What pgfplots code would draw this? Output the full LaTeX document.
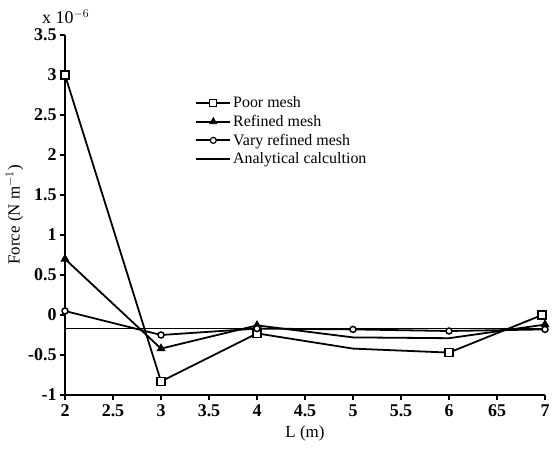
\documentclass[border=0pt]{standalone}
\usepackage{fontspec}
\setmainfont{Liberation Serif}
\usepackage{pgfplots}
\pgfplotsset{compat=1.18}
\usetikzlibrary{calc}
\begin{document}
\begin{tikzpicture}
\begin{axis}[
    name=ax,
    scale only axis,
    width=480bp, height=360bp,
    xmin=2, xmax=7,
    ymin=-1, ymax=3.5,
    axis lines=left,
    axis line style={-, line width=1.8pt},
    tick align=outside,
    tick style={line width=1.8pt, black},
    major tick length=5bp,
    xtick={2,2.5,3,3.5,4,4.5,5,5.5,6,6.5,7},
    xticklabels={2,2.5,3,3.5,4,4.5,5,5.5,6,65,7},
    ytick={-1,-0.5,0,0.5,1,1.5,2,2.5,3,3.5},
    yticklabels={-1,-0.5,0,0.5,1,1.5,2,2.5,3,3.5},
    ticklabel style={font=\fontsize{18}{20}\selectfont\bfseries},
    xticklabel style={yshift=-1bp},
    xlabel={L (m)},
    ylabel={Force (N m$^{-1}$)},
    label style={font=\fontsize{17}{19}\selectfont},
    xlabel style={yshift=-2bp},
    ylabel style={yshift=-2bp},
    clip=false,
    legend cell align=left,
    legend style={
        at={(rel axis cs:0.265,0.84)}, anchor=north west,
        draw=none, fill=none,
        font=\fontsize{16}{18}\selectfont, row sep=2pt,
        /tikz/every even column/.append style={column sep=8bp}
    },
    legend image code/.code={
        \draw[#1, mark repeat=2, mark phase=2]
            plot coordinates {(0cm,0cm) (0.6cm,0cm) (1.2cm,0cm)};
    },
]

% legend samples (one mark each)
\addlegendimage{black, line width=1.8pt, mark=square*, mark size=3.5bp,
    mark options={fill=white, line width=1.2pt}}
\addlegendentry{Poor mesh}
\addlegendimage{black, line width=1.8pt, mark=triangle*, mark size=4bp,
    mark options={fill=black, line width=0.8pt}}
\addlegendentry{Refined mesh}
\addlegendimage{black, line width=1.8pt, mark=*, mark size=3bp,
    mark options={fill=white, line width=1.2pt}}
\addlegendentry{Vary refined mesh}
\addlegendimage{black, line width=1.8pt}
\addlegendentry{Analytical calcultion}

% Analytical
\addplot[black, line width=1.8pt, forget plot]
    coordinates {(2,-0.17) (7,-0.17)};

% Poor mesh
\addplot[black, line width=1.8pt, mark=square*, mark size=4bp,
    mark options={fill=white, line width=1.5pt}, mark indices={1,2,3,5,6}, forget plot]
    coordinates {(2,3.0) (3,-0.83) (4,-0.23) (5,-0.42) (6,-0.47) (6.97,0.0)};

% Refined mesh
\addplot[black, line width=1.8pt, mark=triangle*, mark size=4.5bp,
    mark options={fill=black, line width=0.8pt}, mark indices={1,2,3,6}, forget plot]
    coordinates {(2,0.70) (3,-0.42) (4,-0.13) (5,-0.28) (6,-0.29) (7,-0.12)};

% Vary refined mesh
\addplot[black, line width=1.8pt, mark=*, mark size=3bp,
    mark options={fill=white, line width=1.5pt}, forget plot]
    coordinates {(2,0.05) (3,-0.25) (4,-0.17) (5,-0.18) (6,-0.20) (7,-0.18)};

\end{axis}
\node[anchor=south west, inner sep=0pt, font=\fontsize{18}{20}\selectfont]
    at ($(ax.north west)+(-23bp,11bp)$) {x 10$^{-6}$};
\pgfresetboundingbox
\path ($(ax.south west)+(-65bp,-56bp)$) rectangle ($(ax.north east)+(12bp,35bp)$);
\end{tikzpicture}
\end{document}
